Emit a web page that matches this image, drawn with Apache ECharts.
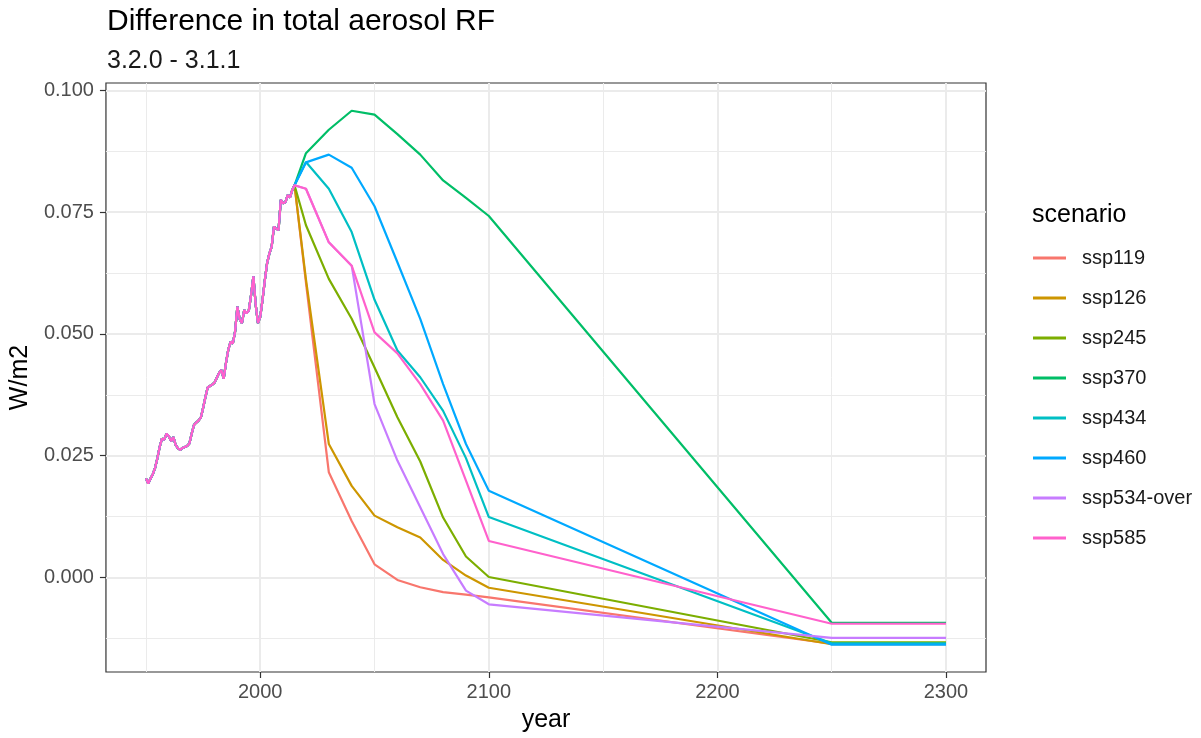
<!DOCTYPE html>
<html>
<head>
<meta charset="utf-8">
<script src="https://cdn.jsdelivr.net/npm/echarts@6/dist/echarts.min.js"></script>
<style>
  html, body { margin: 0; padding: 0; background: #fff; }
  #chart { width: 1201px; height: 738px; }
</style>
</head>
<body>
<div id="chart"></div>
<script>
// historical part, shared by every scenario
const histYears = [
  1950, 1951, 1952, 1953, 1954, 1955, 1956, 1957, 1958, 1959,
  1960, 1961, 1962, 1963, 1964, 1965, 1966, 1967, 1968, 1969,
  1970, 1971, 1972, 1973, 1974, 1975, 1976, 1977, 1978, 1979,
  1980, 1981, 1982, 1983, 1984, 1985, 1986, 1987, 1988, 1989,
  1990, 1991, 1992, 1993, 1994, 1995, 1996, 1997, 1998, 1999,
  2000, 2001, 2002, 2003, 2004, 2005, 2006, 2007, 2008, 2009,
  2010, 2011, 2012, 2013, 2014
]
const histValues = [
  0.0203, 0.0193, 0.0203, 0.0212, 0.0225, 0.0245, 0.0268, 0.0285, 0.0283, 0.0295,
  0.0290, 0.0280, 0.0288, 0.0272, 0.0265, 0.0262, 0.0266, 0.0268, 0.0270, 0.0275,
  0.0295, 0.0313, 0.0318, 0.0322, 0.0328, 0.0348, 0.0370, 0.0390, 0.0393, 0.0396,
  0.0400, 0.0410, 0.0420, 0.0426, 0.0408, 0.0440, 0.0467, 0.0484, 0.0480, 0.0505,
  0.0556, 0.0530, 0.0522, 0.0549, 0.0542, 0.0548, 0.0580, 0.0618, 0.0560, 0.0522,
  0.0535, 0.0570, 0.0610, 0.0645, 0.0665, 0.0679, 0.0720, 0.0716, 0.0713, 0.0775,
  0.0768, 0.0770, 0.0785, 0.0780, 0.0795
]

// scenario part
const scenarioYears = [2015, 2020, 2030, 2040, 2050, 2060, 2070, 2080, 2090, 2100, 2250, 2300]
const ssp119 = [0.0805, 0.0605, 0.0216, 0.0116, 0.0027, -0.0005, -0.0020, -0.0030, -0.0035, -0.0041, -0.0136, -0.0136]
const ssp126 = [0.0805, 0.0612, 0.0274, 0.0188, 0.0127, 0.0103, 0.0082, 0.0036, 0.0004, -0.0021, -0.0137, -0.0137]
const ssp245 = [0.0805, 0.0723, 0.0613, 0.0531, 0.0431, 0.0329, 0.0238, 0.0123, 0.0043, 0.0001, -0.0133, -0.0133]
const ssp370 = [0.0805, 0.0871, 0.0919, 0.0958, 0.0950, 0.0910, 0.0868, 0.0815, 0.0779, 0.0742, -0.0093, -0.0093]
const ssp434 = [0.0805, 0.0853, 0.0798, 0.0709, 0.0570, 0.0466, 0.0411, 0.0342, 0.0245, 0.0124, -0.0135, -0.0135]
const ssp460 = [0.0805, 0.0852, 0.0868, 0.0841, 0.0762, 0.0647, 0.0531, 0.0397, 0.0274, 0.0178, -0.0138, -0.0138]
const ssp534over = [0.0805, 0.0798, 0.0688, 0.0640, 0.0356, 0.0240, 0.0144, 0.0048, -0.0027, -0.0055, -0.0124, -0.0124]
const ssp585 = [0.0805, 0.0798, 0.0688, 0.0640, 0.0503, 0.0460, 0.0397, 0.0322, 0.0199, 0.0075, -0.0095, -0.0095]

const scenarioNames = ['ssp119', 'ssp126', 'ssp245', 'ssp370', 'ssp434', 'ssp460', 'ssp534-over', 'ssp585']
const scenarioValues = [ssp119, ssp126, ssp245, ssp370, ssp434, ssp460, ssp534over, ssp585]

// ggplot hue palette
const colors = ['#F8766D', '#CD9600', '#7CAE00', '#00BE67', '#00BFC4', '#00A9FF', '#C77CFF', '#FF61CC']

const xMajor = [2000, 2100, 2200, 2300]
const xMinor = [1950, 2050, 2150, 2250]
const yMajor = [0, 0.025, 0.05, 0.075, 0.1]
const yMinor = [-0.0125, 0.0125, 0.0375, 0.0625, 0.0875]

const font = 'Liberation Sans, Arial, Helvetica, sans-serif'
const gridColor = '#EBEBEB'

const buildData = (vals) =>
  histYears.map((y, i) => [y, histValues[i]])
    .concat(scenarioYears.map((y, i) => [y, vals[i]]))

const chart = echarts.init(document.getElementById('chart'))

chart.setOption({
  animation: false,
  textStyle: { fontFamily: font },
  title: [
    {
      text: 'Difference in total aerosol RF',
      subtext: '3.2.0 - 3.1.1',
      left: 102,
      top: 2,
      itemGap: 12,
      textStyle: { fontSize: 30, fontWeight: 'normal', color: '#000', fontFamily: font },
      subtextStyle: { fontSize: 25, color: '#1a1a1a', fontFamily: font },
    },
    {
      text: 'scenario',
      left: 1027,
      top: 198,
      textStyle: { fontSize: 25, fontWeight: 'normal', color: '#000', fontFamily: font },
    },
  ],
  legend: {
    orient: 'vertical',
    left: 1028,
    top: 243,
    itemWidth: 33,
    itemHeight: 3,
    itemGap: 20,
    icon: 'rect',
    textStyle: { fontSize: 20, color: '#1a1a1a', lineHeight: 20, padding: [0, 0, 0, 11], fontFamily: font },
    data: scenarioNames,
  },
  grid: {
    left: 105,
    right: 215,
    top: 83,
    bottom: 66,
    show: true,
    borderColor: '#333',
    borderWidth: 1.2,
    backgroundColor: 'transparent',
  },
  xAxis: [
    {
      type: 'value',
      min: 1932.5,
      max: 2317.5,
      name: 'year',
      nameLocation: 'middle',
      nameGap: 36,
      nameTextStyle: { fontSize: 25, color: '#000', verticalAlign: 'top', fontFamily: font },
      axisLine: { show: false, onZero: false },
      axisTick: { customValues: xMajor, length: 6, lineStyle: { color: '#333', width: 1.2 } },
      axisLabel: {
        customValues: xMajor,
        fontSize: 20,
        color: '#4D4D4D',
        margin: 10,
        fontFamily: font,
        formatter: (v) => String(v),
      },
      splitLine: { show: true, lineStyle: { color: gridColor, width: 2 } },
    },
    {
      type: 'value',
      min: 1932.5,
      max: 2317.5,
      position: 'bottom',
      axisLine: { show: false, onZero: false },
      axisTick: { show: false, customValues: xMinor },
      axisLabel: { show: false, customValues: xMinor },
      splitLine: { show: true, lineStyle: { color: gridColor, width: 1 } },
    },
  ],
  yAxis: [
    {
      type: 'value',
      min: -0.0194,
      max: 0.1015,
      name: 'W/m2',
      nameLocation: 'middle',
      nameRotate: 90,
      nameGap: 64,
      nameTextStyle: { fontSize: 25, color: '#000', fontFamily: font },
      axisLine: { show: false, onZero: false },
      axisTick: { customValues: yMajor, length: 6, lineStyle: { color: '#333', width: 1.2 } },
      axisLabel: {
        customValues: yMajor,
        fontSize: 20,
        color: '#4D4D4D',
        margin: 12,
        fontFamily: font,
        formatter: (v) => v.toFixed(3),
      },
      splitLine: { show: true, lineStyle: { color: gridColor, width: 2 } },
    },
    {
      type: 'value',
      min: -0.0194,
      max: 0.1015,
      position: 'left',
      axisLine: { show: false, onZero: false },
      axisTick: { show: false, customValues: yMinor },
      axisLabel: { show: false, customValues: yMinor },
      splitLine: { show: true, lineStyle: { color: gridColor, width: 1 } },
    },
  ],
  series: scenarioNames.map((name, i) => ({
    name,
    type: 'line',
    xAxisIndex: 0,
    yAxisIndex: 0,
    showSymbol: false,
    symbol: 'none',
    color: colors[i],
    lineStyle: { width: 2.2, color: colors[i] },
    data: buildData(scenarioValues[i]),
  })),
})
</script>
</body>
</html>
